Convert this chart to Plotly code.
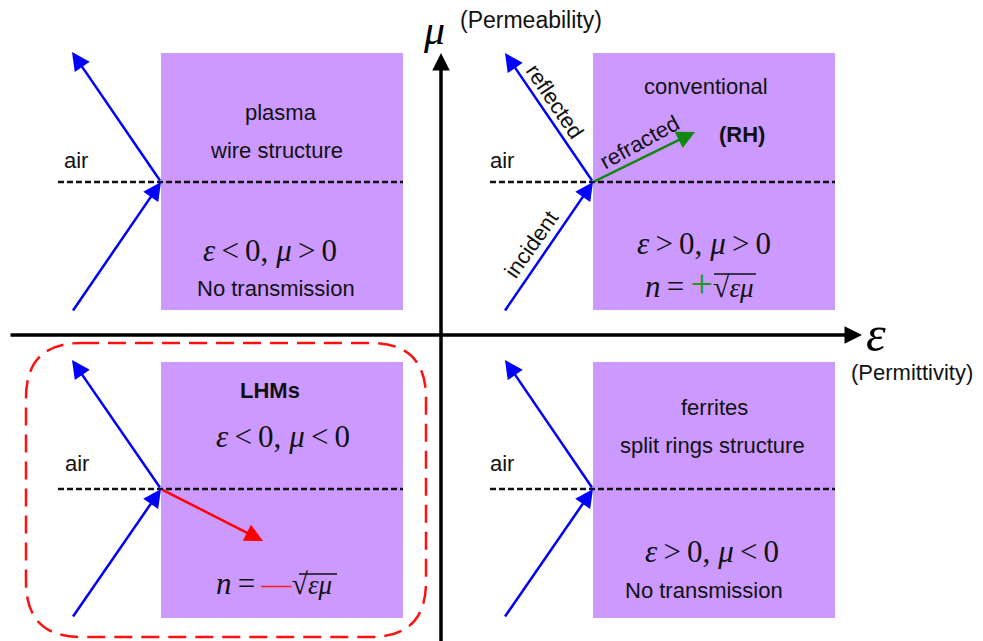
import plotly.graph_objects as go

W, H = 983, 641
OFF = 8  # page body margin of the html page

# ---------- content ----------
box_x0 = [161, 593, 161, 593]
box_x1 = [403, 835, 403, 835]
box_y0 = [53, 53, 362, 362]
box_y1 = [310, 310, 618, 618]
iface_x = [161, 593, 161, 593]
iface_y = [182, 182, 489, 489]
incident_start_x = [72, 504, 72, 504]
incident_start_y = [312, 312, 618, 618]
reflect_end_x = [72, 505, 72, 505]
reflect_end_y = [52, 53, 360, 360]
dash_start_x = [58, 490, 58, 490]

air_label = "air"
air_x = [76, 502, 77, 502]
air_y = [160, 160, 463, 463]

title_lines = [["plasma", "wire structure"], ["conventional", "<b>(RH)</b>"],
               ["<b>LHMs</b>"], ["ferrites", "split rings structure"]]
title_x = [[281, 276], [706, 742], [270], [714, 712]]
title_y = [[112, 150], [86, 134], [390], [407, 445]]

TS = "\u2009"
cond_text = [f"<i>ε</i>{TS}<{TS}0, <i>μ</i>{TS}>{TS}0", f"<i>ε</i>{TS}>{TS}0, <i>μ</i>{TS}>{TS}0",
             f"<i>ε</i>{TS}<{TS}0, <i>μ</i>{TS}<{TS}0", f"<i>ε</i>{TS}>{TS}0, <i>μ</i>{TS}<{TS}0"]
cond_x = [270, 704, 283, 712]
cond_y = [250, 243, 436, 551]

notrans_text = "No transmission"
notrans_x = [276, 704]
notrans_y = [288, 590]

index_text = [f"<i>n</i>{TS}={TS}<span style='color:#1f9a1f;font-size:40px'>+</span>"
              f"<span style='font-size:30px'>√</span><span style='font-size:27px'><i>εμ</i></span>",
              f"<i>n</i>{TS}={TS}<span style='color:#ff1a1a;font-size:30px'>—</span>"
              f"<span style='font-size:30px'>√</span><span style='font-size:27px'><i>εμ</i></span>"]
index_x0 = [643, 214]
index_y = [283, 583]
# radical bar over "εμ"
bar_x0 = [714, 299]
bar_x1 = [756, 337]
bar_y = [274, 574]

refr_color = ["#118811", "#ff0000"]
refr_tip_x = [695, 263]
refr_tip_y = [132, 541]

ray_words = ["reflected", "refracted", "incident"]
ray_word_x = [555, 639, 531]
ray_word_y = [101, 142, 244]
ray_word_angle = [56, -29, -55]

mu_label = "<i>μ</i>"
mu_desc = "(Permeability)"
eps_label = "<i>ε</i>"
eps_desc = "(Permittivity)"

# ---------- figure ----------
fig = go.Figure()
shapes = []
ann = []

SANS = "Liberation Sans, Arial, sans-serif"
SERIF = "Liberation Serif, Times New Roman, serif"
BLUE = "#0000ff"
PURPLE = "#cc99ff"
TXT = "#111111"
FS = 22

for i in range(4):
    shapes.append(dict(type="rect", x0=box_x0[i], x1=box_x1[i], y0=box_y0[i], y1=box_y1[i],
                       fillcolor=PURPLE, line=dict(width=0), layer="below"))
    shapes.append(dict(type="line", x0=dash_start_x[i], x1=box_x1[i], y0=iface_y[i], y1=iface_y[i],
                       line=dict(color="#111111", width=2.5, dash="6px,3px")))
    ann.append(dict(x=iface_x[i], y=iface_y[i], ax=incident_start_x[i], ay=incident_start_y[i],
                    axref="x", ayref="y", xref="x", yref="y", text="", showarrow=True,
                    arrowhead=2, arrowsize=1.45, arrowwidth=2.5, arrowcolor=BLUE, standoff=0))
    ann.append(dict(x=reflect_end_x[i], y=reflect_end_y[i], ax=iface_x[i], ay=iface_y[i],
                    axref="x", ayref="y", xref="x", yref="y", text="", showarrow=True,
                    arrowhead=2, arrowsize=1.45, arrowwidth=2.5, arrowcolor=BLUE, standoff=0))
    ann.append(dict(x=air_x[i], y=air_y[i], xref="x", yref="y", text=air_label, showarrow=False,
                    font=dict(family=SANS, size=FS, color=TXT)))
    for t, tx, ty in zip(title_lines[i], title_x[i], title_y[i]):
        ann.append(dict(x=tx, y=ty, xref="x", yref="y", text=t, showarrow=False,
                        font=dict(family=SANS, size=FS, color=TXT)))
    ann.append(dict(x=cond_x[i], y=cond_y[i], xref="x", yref="y", text=cond_text[i], showarrow=False,
                    font=dict(family=SERIF, size=31, color=TXT)))

for k in range(2):
    ann.append(dict(x=notrans_x[k], y=notrans_y[k], xref="x", yref="y", text=notrans_text,
                    showarrow=False, font=dict(family=SANS, size=FS, color=TXT)))
    ann.append(dict(x=index_x0[k], y=index_y[k], xref="x", yref="y", text=index_text[k],
                    xanchor="left", showarrow=False, font=dict(family=SERIF, size=31, color=TXT)))
    shapes.append(dict(type="line", x0=bar_x0[k], x1=bar_x1[k], y0=bar_y[k], y1=bar_y[k],
                       line=dict(color=TXT, width=1.5)))

for k, q in enumerate([1, 2]):
    ann.append(dict(x=refr_tip_x[k], y=refr_tip_y[k], ax=iface_x[q], ay=iface_y[q],
                    axref="x", ayref="y", xref="x", yref="y", text="", showarrow=True,
                    arrowhead=2, arrowsize=1.45, arrowwidth=2.5, arrowcolor=refr_color[k], standoff=0))

for w, wx, wy, wa in zip(ray_words, ray_word_x, ray_word_y, ray_word_angle):
    ann.append(dict(x=wx, y=wy, xref="x", yref="y", text=w, textangle=wa, showarrow=False,
                    font=dict(family=SANS, size=FS, color=TXT)))

# main axes with arrows
ann.append(dict(x=862, y=335, ax=9, ay=335, axref="x", ayref="y", xref="x", yref="y", text="",
                showarrow=True, arrowhead=2, arrowsize=1.0, arrowwidth=3.5, arrowcolor="#000000",
                standoff=0))
ann.append(dict(x=441, y=53, ax=441, ay=660, axref="x", ayref="y", xref="x", yref="y", text="",
                showarrow=True, arrowhead=2, arrowsize=1.0, arrowwidth=3.5, arrowcolor="#000000",
                standoff=0))

ann.append(dict(x=434, y=30, xref="x", yref="y", text=mu_label, showarrow=False,
                font=dict(family=SERIF, size=42, color="#000000")))
ann.append(dict(x=458, y=20, xref="x", yref="y", text=mu_desc, showarrow=False, xanchor="left",
                font=dict(family=SANS, size=23, color=TXT)))
ann.append(dict(x=876, y=334, xref="x", yref="y", text=eps_label, showarrow=False,
                font=dict(family=SERIF, size=50, color="#000000")))
ann.append(dict(x=912, y=372, xref="x", yref="y", text=eps_desc, showarrow=False,
                font=dict(family=SANS, size=22, color=TXT)))

# dashed rounded rectangle around LHM quadrant
x0, x1, y0, y1, r = 26, 426, 343, 637, 55
path = (f"M {x0+r},{y0} L {x1-r},{y0} Q {x1},{y0} {x1},{y0+r} L {x1},{y1-r} "
        f"Q {x1},{y1} {x1-r},{y1} L {x0+r},{y1} Q {x0},{y1} {x0},{y1-r} "
        f"L {x0},{y0+r} Q {x0},{y0} {x0+r},{y0} Z")
shapes.append(dict(type="path", path=path, line=dict(color="#ff1010", width=2.5, dash="18px,9px")))

fig.update_layout(
    width=W, height=H, margin=dict(l=0, r=0, t=0, b=0),
    paper_bgcolor="white", plot_bgcolor="white",
    xaxis=dict(range=[OFF, W + OFF], visible=False, fixedrange=True),
    yaxis=dict(range=[H + OFF, OFF], visible=False, fixedrange=True),
    shapes=shapes, annotations=ann, showlegend=False,
)

fig.write_html("out.html", config={"displayModeBar": False})
